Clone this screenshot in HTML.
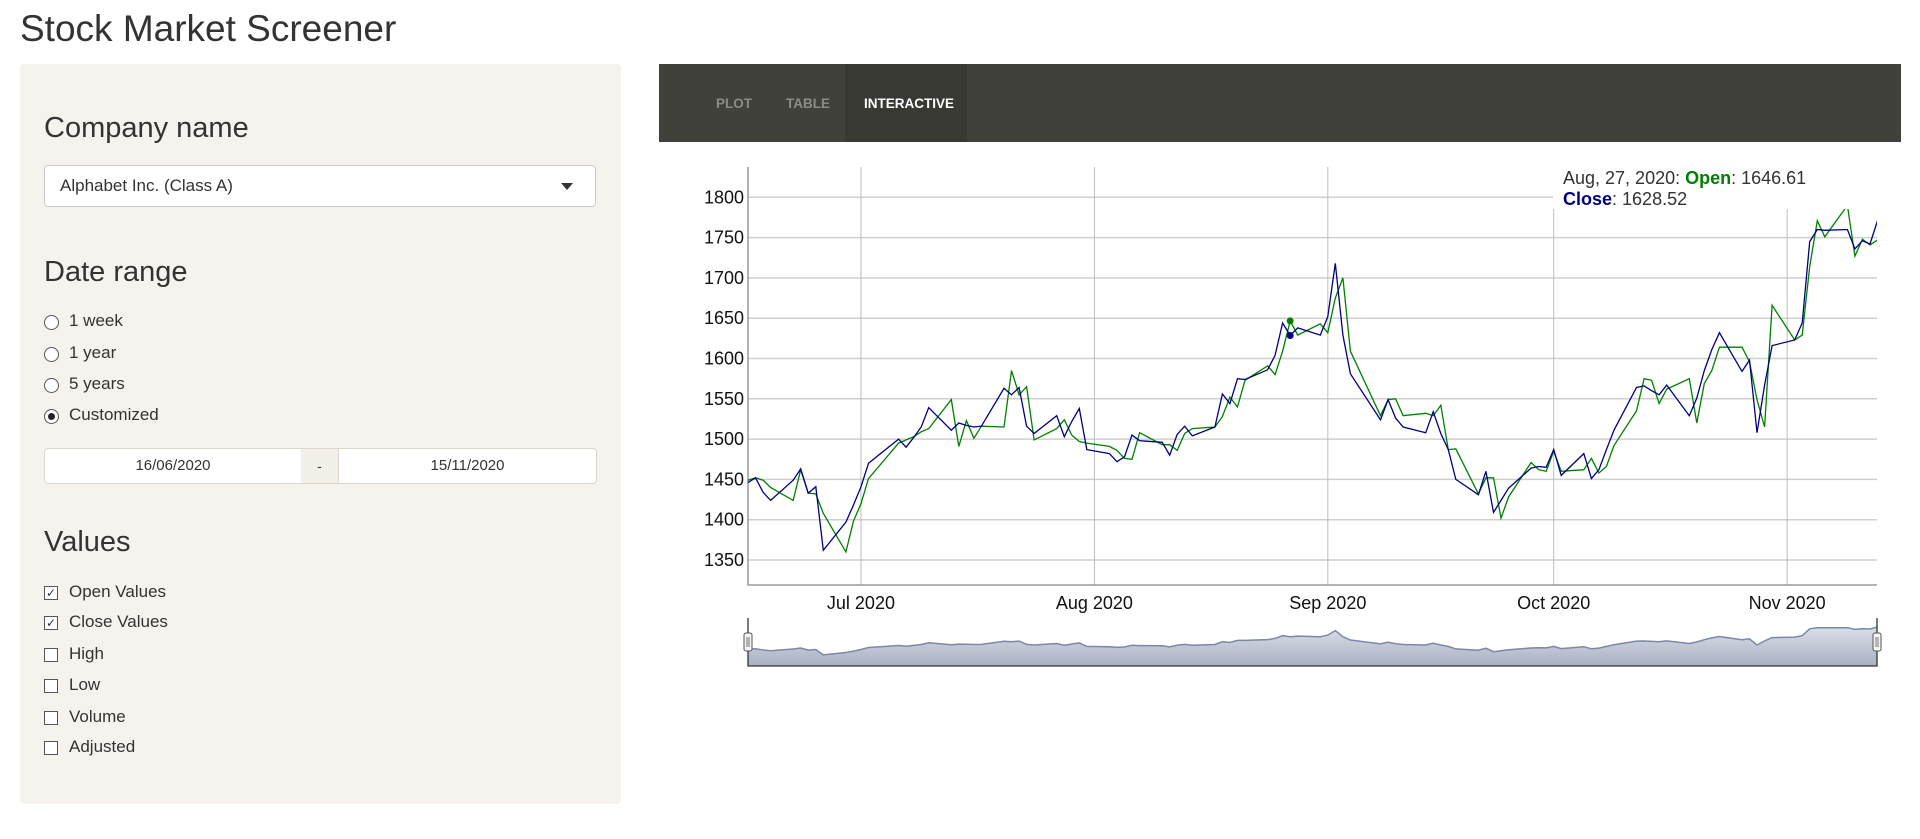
<!DOCTYPE html>
<html><head><meta charset="utf-8"><style>
body{margin:0;width:1920px;height:839px;background:#fff;font-family:"Liberation Sans",sans-serif;color:#333;position:relative;overflow:hidden}
.abs{position:absolute}
.h{font-size:29px;color:#333;position:absolute;left:44px}
.opt{position:absolute;left:51px;font-size:17px;color:#333}
.opt span{position:absolute;left:18px;top:-11px;white-space:nowrap}
.radio{position:absolute;left:-7px;top:-7px;width:13px;height:13px;border:1px solid #555;border-radius:50%;background:#fff}
.cb{position:absolute;left:-7px;top:-7px;width:12px;height:12px;border:1px solid #555;background:#fff;font-size:12px;line-height:12px;text-align:center}
.tab{position:absolute;top:96px;font-size:13.5px;font-weight:bold;color:#8c8c84}
</style></head><body>
<div class="abs" style="left:20px;top:8px;font-size:37px;color:#333">Stock Market Screener</div>
<div class="abs" style="left:20px;top:64px;width:601px;height:740px;background:#f6f3ee;border-radius:4px"></div>
<div class="h" style="top:112px">Company name</div>
<div class="abs" style="left:44px;top:165px;width:550px;height:40px;background:#fff;border:1px solid #ccc;border-radius:4px">
<span style="position:absolute;left:15px;top:10px;font-size:17px;color:#333">Alphabet Inc. (Class A)</span>
<span style="position:absolute;left:516px;top:17px;width:0;height:0;border-left:6px solid transparent;border-right:6px solid transparent;border-top:7px solid #333"></span></div>
<div class="h" style="top:256px">Date range</div>
<div class="opt" style="top:322px"><div class="radio"></div><span>1 week</span></div>
<div class="opt" style="top:354px"><div class="radio"></div><span>1 year</span></div>
<div class="opt" style="top:385px"><div class="radio"></div><span>5 years</span></div>
<div class="opt" style="top:416px"><div class="radio"><div style="position:absolute;left:3px;top:3px;width:7px;height:7px;border-radius:50%;background:#222"></div></div><span>Customized</span></div>
<div class="abs" style="left:44px;top:448px;width:256px;height:34px;background:#fff;border:1px solid #ddd6cc;border-radius:4px 0 0 4px;text-align:center;line-height:34px;font-size:15px">16/06/2020</div>
<div class="abs" style="left:301px;top:448px;width:37px;height:34px;background:#f3efe9;border-top:1px solid #ddd6cc;border-bottom:1px solid #ddd6cc;text-align:center;line-height:34px;font-size:14px">-</div>
<div class="abs" style="left:338px;top:448px;width:257px;height:34px;background:#fff;border:1px solid #ddd6cc;border-radius:0 4px 4px 0;text-align:center;line-height:34px;font-size:15px">15/11/2020</div>
<div class="h" style="top:526px">Values</div>
<div class="opt" style="top:593px"><div class="cb">✓</div><span>Open Values</span></div>
<div class="opt" style="top:623px"><div class="cb">✓</div><span>Close Values</span></div>
<div class="opt" style="top:655px"><div class="cb"></div><span>High</span></div>
<div class="opt" style="top:686px"><div class="cb"></div><span>Low</span></div>
<div class="opt" style="top:718px"><div class="cb"></div><span>Volume</span></div>
<div class="opt" style="top:748px"><div class="cb"></div><span>Adjusted</span></div>

<div class="abs" style="left:659px;top:64px;width:1242px;height:78px;background:#41413b"></div>
<div class="abs" style="left:845px;top:64px;width:122px;height:78px;background:#393934"></div>
<div class="tab" style="left:716px">PLOT</div>
<div class="tab" style="left:786px">TABLE</div>
<div class="tab" style="left:864px;color:#fff">INTERACTIVE</div>

<svg id="chart" class="abs" style="left:0;top:0" width="1920" height="839"></svg>
<script>
const dates=["2020-06-16","2020-06-17","2020-06-18","2020-06-19","2020-06-22","2020-06-23","2020-06-24","2020-06-25","2020-06-26","2020-06-29","2020-06-30","2020-07-01","2020-07-02","2020-07-06","2020-07-07","2020-07-08","2020-07-09","2020-07-10","2020-07-13","2020-07-14","2020-07-15","2020-07-16","2020-07-17","2020-07-20","2020-07-21","2020-07-22","2020-07-23","2020-07-24","2020-07-27","2020-07-28","2020-07-29","2020-07-30","2020-07-31","2020-08-03","2020-08-04","2020-08-05","2020-08-06","2020-08-07","2020-08-10","2020-08-11","2020-08-12","2020-08-13","2020-08-14","2020-08-17","2020-08-18","2020-08-19","2020-08-20","2020-08-21","2020-08-24","2020-08-25","2020-08-26","2020-08-27","2020-08-28","2020-08-31","2020-09-01","2020-09-02","2020-09-03","2020-09-04","2020-09-08","2020-09-09","2020-09-10","2020-09-11","2020-09-14","2020-09-15","2020-09-16","2020-09-17","2020-09-18","2020-09-21","2020-09-22","2020-09-23","2020-09-24","2020-09-25","2020-09-28","2020-09-29","2020-09-30","2020-10-01","2020-10-02","2020-10-05","2020-10-06","2020-10-07","2020-10-08","2020-10-09","2020-10-12","2020-10-13","2020-10-14","2020-10-15","2020-10-16","2020-10-19","2020-10-20","2020-10-21","2020-10-22","2020-10-23","2020-10-26","2020-10-27","2020-10-28","2020-10-29","2020-10-30","2020-11-02","2020-11-03","2020-11-04","2020-11-05","2020-11-06","2020-11-09","2020-11-10","2020-11-11","2020-11-12","2020-11-13"];
const closeVals=[1446,1452,1434,1424,1449,1463,1433,1441,1362,1397,1418,1441,1470,1500,1490,1502,1515,1539,1511,1520,1517,1515,1516,1563,1555,1564,1516,1507,1529,1503,1522,1538,1487,1482,1472,1478,1505,1498,1496,1480,1506,1516,1504,1515,1556,1544,1575,1574,1586,1604,1644,1628.52,1638,1629,1652,1718,1629,1581,1524,1549,1526,1515,1508,1534,1507,1487,1450,1431,1460,1409,1424,1439,1464,1466,1465,1487,1455,1482,1451,1462,1487,1511,1564,1566,1560,1555,1567,1529,1551,1585,1611,1632,1584,1598,1508,1567,1616,1623,1644,1745,1760,1759,1760,1736,1746,1742,1771];
const openVals=[1449,1452,1449,1440,1424,1462,1433,1432,1408,1360,1398,1420,1451,1495,1499,1503,1509,1513,1549,1491,1523,1501,1516,1515,1585,1555,1565,1499,1513,1524,1505,1497,1495,1491,1486,1476,1475,1508,1493,1493,1486,1507,1513,1515,1528,1552,1540,1573,1591,1580,1609,1646.61,1629,1643,1632,1675,1700,1609,1529,1549,1550,1529,1532,1529,1542,1487,1488,1432,1452,1452,1402,1428,1471,1462,1460,1485,1460,1462,1476,1458,1466,1492,1535,1575,1573,1544,1562,1575,1520,1569,1585,1614,1614,1596,1549,1515,1666,1623,1629,1714,1771,1751,1790,1727,1748,1741,1747];
const yTicks=[1350,1400,1450,1500,1550,1600,1650,1700,1750,1800];
const xTickDates=["2020-07-01","2020-08-01","2020-09-01","2020-10-01","2020-11-01"];
const xTickLabels=["Jul 2020","Aug 2020","Sep 2020","Oct 2020","Nov 2020"];
const hoverIndex=51;

const svg=document.getElementById('chart');
const NS='http://www.w3.org/2000/svg';
const L=748,R=1877,T=167,B=585;
const d0=Date.parse("2020-06-16"),pxDay=7.53;
const X=d=>L+(Date.parse(d)-d0)/864e5*pxDay;
const Y=v=>197.3+(1800-v)*0.806;
const NY=v=>666-(v-1200)*(41/600);
function mk(tag,attrs,parent){const e=document.createElementNS(NS,tag);for(const k in attrs)e.setAttribute(k,attrs[k]);(parent||svg).appendChild(e);return e;}
const defs=mk('defs',{});
const cp=mk('clipPath',{id:'pc'},defs);mk('rect',{x:L,y:T,width:R-L,height:B-T},cp);
const gr=mk('linearGradient',{id:'ng',x1:0,y1:0,x2:0,y2:1},defs);
mk('stop',{offset:0,'stop-color':'#dcdfe8'},gr);mk('stop',{offset:1,'stop-color':'#a8b0c3'},gr);
yTicks.forEach(v=>{
 const l=mk('line',{x1:L,x2:R,y1:Y(v),y2:Y(v),stroke:'#cfcfcf','stroke-width':1.5});
 
 
 const t=mk('text',{x:744,y:Y(v)+6,'text-anchor':'end','font-size':18,fill:'#111'});
 t.textContent=v;
 
 
});
xTickDates.forEach((d,i)=>{
 const l=mk('line',{x1:X(d),x2:X(d),y1:T,y2:B,stroke:'#bdbdbd','stroke-width':1});
 
 
 const t=mk('text',{x:X(d),y:609,'text-anchor':'middle','font-size':18,fill:'#111'});
 t.textContent=xTickLabels[i];
 
 
});
const ax=mk('path',{d:`M${L} ${T}V${B}H${R}`,fill:'none',stroke:'#888','stroke-width':1.3});


function series(vals,color,name){
 const p=mk('polyline',{points:vals.map((v,i)=>X(dates[i]).toFixed(1)+','+Y(v).toFixed(1)).join(' '),fill:'none',stroke:color,'stroke-width':1.3,'clip-path':'url(#pc)'});
 
 
}
series(openVals,'#008000','open-series');
series(closeVals,'#000080','close-series');
const tb=mk('rect',{x:1553,y:T-2,width:R-1553+1,height:44,fill:'#fff'});


const hx=X(dates[hoverIndex]);
const d1=mk('circle',{cx:hx,cy:Y(openVals[hoverIndex]),r:3.5,fill:'#008000'});


const d2=mk('circle',{cx:hx,cy:Y(closeVals[hoverIndex]),r:3.5,fill:'#000080'});


const t1=mk('text',{x:1563,y:184,'font-size':18,fill:'#333'});
t1.innerHTML='Aug, 27, 2020: <tspan fill="#008000" font-weight="bold">Open</tspan>: '+openVals[hoverIndex];


const t2=mk('text',{x:1563,y:205,'font-size':18,fill:'#333'});
t2.innerHTML='<tspan fill="#000080" font-weight="bold">Close</tspan>: '+closeVals[hoverIndex];


const np=closeVals.map((v,i)=>X(dates[i]).toFixed(1)+','+NY(v).toFixed(1));
const na=mk('path',{d:'M'+L+' 666L'+np.join('L')+'L'+R+' 666Z',fill:'url(#ng)'});


const nl=mk('polyline',{points:np.join(' '),fill:'none',stroke:'#7b88a6','stroke-width':1.5});


const nb=mk('path',{d:`M${L} 618V666H${R}V618`,fill:'none',stroke:'#333','stroke-width':1.3});


[L,R].forEach((hx2,i)=>{
 const h=mk('rect',{x:hx2-4,y:633,width:8,height:18,rx:2,fill:'#f4f4f4',stroke:'#555','stroke-width':1});
 
 
 mk('path',{d:`M${hx2-1} 637V647M${hx2+1} 637V647`,stroke:'#555','stroke-width':0.8});
});
</script>
</body></html>
